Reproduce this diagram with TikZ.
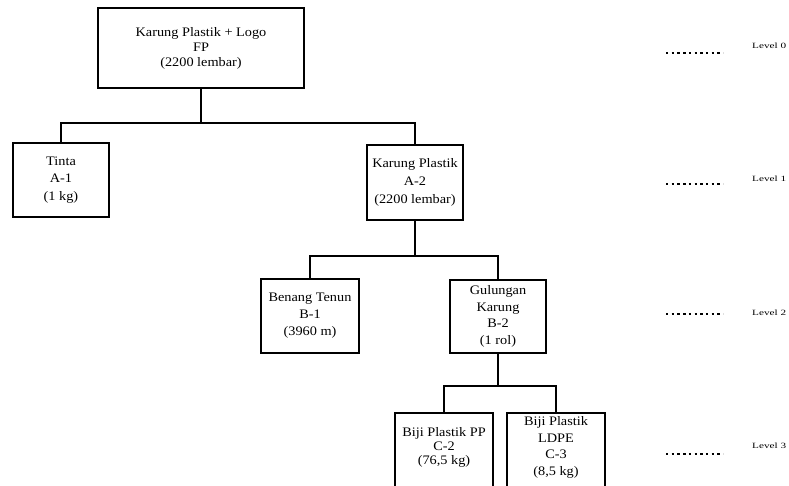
\documentclass[tikz,border=0pt]{standalone}
\usepackage{fontspec}
\setmainfont[FakeStretch=1.1]{Liberation Serif}
\newfontfamily\lvlfont[FakeStretch=1.4]{Liberation Serif}
\begin{document}
\begin{tikzpicture}[x=1pt,y=-1pt,
  box/.style={draw, line width=1.4pt, inner sep=0pt, align=center,
    font=\fontsize{13}{16.5}\selectfont},
  txt/.style={inner sep=0pt, align=center, font=\fontsize{13}{16.5}\selectfont},
  conn/.style={line width=1.4pt},
  dots/.style={line width=1.1pt, dash pattern=on 2.4pt off 3.3pt},
  lvl/.style={inner sep=0pt, anchor=west, font=\lvlfont\fontsize{8}{9}\selectfont}]
\clip (0,0) rectangle (789,486);
\fill[white] (0,0) rectangle (789,486);

\node[box, minimum width=206pt, minimum height=80pt, font=\fontsize{13}{15}\selectfont] (top) at (201,48)
  {Karung Plastik + Logo\\FP\\(2200 lembar)};
\node[box, minimum width=96pt, minimum height=74pt, font=\fontsize{13}{17.5}\selectfont] (a1) at (61,180) {Tinta\\A-1\\(1 kg)};
\node[box, minimum width=96pt, minimum height=75pt, font=\fontsize{13}{18}\selectfont] (a2) at (415,182.5) {Karung Plastik\\A-2\\(2200 lembar)};
\node[box, minimum width=98pt, minimum height=74pt, font=\fontsize{13}{17}\selectfont] (b1) at (310,316) {Benang Tenun\\B-1\\(3960 m)};
\node[box, minimum width=96pt, minimum height=73pt] (b2) at (498,316.5) {Gulungan\\Karung\\B-2\\(1 rol)};
\node[box, minimum width=98pt, minimum height=120pt] (c2) at (444,473) {};
\node[box, minimum width=98pt, minimum height=120pt] (c3) at (556,473) {};
\node[txt, font=\fontsize{13}{14}\selectfont] (c2t) at (444,447) {Biji Plastik PP\\C-2\\(76,5 kg)};
\node[txt] (c3t) at (556,447.5) {Biji Plastik\\LDPE\\C-3\\(8,5 kg)};

\coordinate (j0) at (201,123);
\coordinate (j1) at (415,256);
\coordinate (j2) at (498,386);
\draw[conn] (top.south) -- (j0);
\draw[conn] (a1.north) |- (j0) -| (a2.north);
\draw[conn] (a2.south) -- (j1);
\draw[conn] (b1.north) |- (j1) -| (b2.north);
\draw[conn] (b2.south) -- (j2);
\draw[conn] (c2.north) |- (j2) -| (c3.north);

\coordinate (d0a) at (666,53); \coordinate (d0b) at (723,53);
\coordinate (d1a) at (666,184); \coordinate (d1b) at (723,184);
\coordinate (d2a) at (666,314); \coordinate (d2b) at (723,314);
\coordinate (d3a) at (666,454); \coordinate (d3b) at (723,454);
\draw[dots] (d0a) -- (d0b);
\draw[dots] (d1a) -- (d1b);
\draw[dots] (d2a) -- (d2b);
\draw[dots] (d3a) -- (d3b);
\node[lvl] (l0) at (752,46) {Level 0};
\node[lvl] (l1) at (752,179) {Level 1};
\node[lvl] (l2) at (752,313) {Level 2};
\node[lvl] (l3) at (752,446) {Level 3};
\end{tikzpicture}
\end{document}
